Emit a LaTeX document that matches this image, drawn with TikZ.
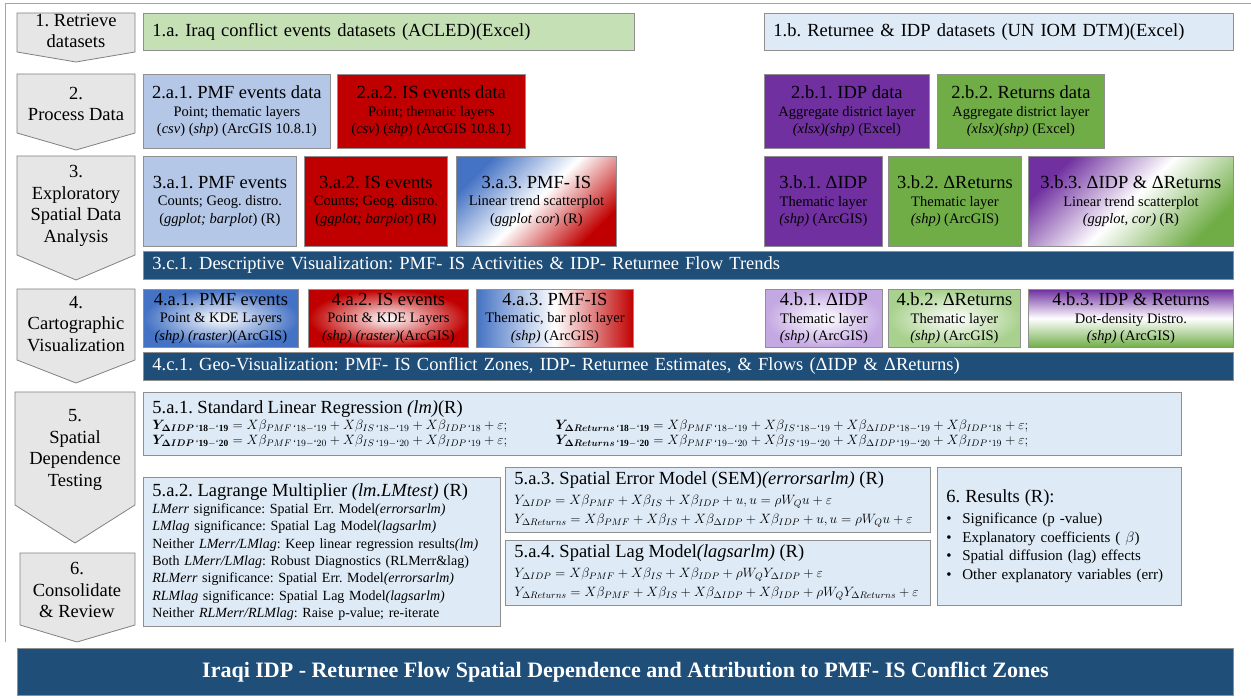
\RequirePackage{fix-cm}
\documentclass[tikz,border=0pt]{standalone}
\usepackage{fontspec}
\setmainfont{Liberation Serif}
\usepackage{amsmath,bm}
\usetikzlibrary{positioning}

\definecolor{stagefill}{HTML}{E7E6E6}
\definecolor{stageline}{HTML}{808080}
\definecolor{boxline}{HTML}{8F8F8F}
\definecolor{frameline}{HTML}{A6A6A6}
\definecolor{lgreen}{HTML}{C5E0B4}
\definecolor{pblue}{HTML}{DEEBF7}
\definecolor{pmfblue}{HTML}{B4C7E7}
\definecolor{isred}{HTML}{C00000}
\definecolor{idppurple}{HTML}{7030A0}
\definecolor{retgreen}{HTML}{70AD47}
\definecolor{barblue}{HTML}{1F4E79}
\definecolor{gblue}{HTML}{4472C4}
\definecolor{lavender}{HTML}{C4A8E2}
\definecolor{softgreen}{HTML}{A9D18E}

\newcommand{\ttlsize}{\fontsize{18.5}{20}\selectfont}
\newcommand{\subsize}{\fontsize{14.5}{17.5}\selectfont}
\newcommand{\qt}{\text{\textquoteleft}}
\frenchspacing

\begin{document}
\begin{tikzpicture}[x=1pt, y=-1pt,
	stage/.style={draw=stageline, fill=stagefill, line width=0.8pt},
	stagetext/.style={align=center, inner sep=0pt, font=\fontsize{18.5}{21.5}\selectfont},
	box/.style={draw=boxline, line width=0.8pt, anchor=north west, align=center, inner xsep=2pt, inner ysep=1pt, font=\subsize},
	leftbox/.style={box, align=left, inner xsep=9pt},
	bar/.style={draw=boxline, line width=0.8pt, fill=barblue, text=white, anchor=north west, align=left, inner xsep=9pt, inner ysep=0pt, minimum height=28pt, font=\ttlsize}]
	\useasboundingbox (0,0) rectangle (1251,700);
	\draw[frameline, line width=0.8pt] (5,642) -- (5,3) -- (1251,3);
	% stages
	\draw[stage] (17,13) -- (135,13) -- (135,52) -- (76,62) -- (17,52) -- cycle;
	\node[stagetext] (retrieve) at (76,31) {1. Retrieve\\datasets};
	\draw[stage] (17,74) -- (135,74) -- (135,133) -- (76,150) -- (17,133) -- cycle;
	\node[stagetext] (process) at (76,104) {2.\\Process Data};
	\draw[stage] (17,156) -- (135,156) -- (135,255) -- (76,280) -- (17,255) -- cycle;
	\node[stagetext] (explore) at (76,206) {3.\\Exploratory\\Spatial Data\\Analysis};
	\draw[stage] (17,289) -- (135,289) -- (135,360) -- (76,383) -- (17,360) -- cycle;
	\node[stagetext] (carto) at (76,324) {4.\\Cartographic\\Visualization};
	\draw[stage] (15,392) -- (135,392) -- (135,505) -- (75,543) -- (15,505) -- cycle;
	\node[stagetext] (spatdep) at (75,450) {5.\\Spatial\\Dependence\\Testing};
	\draw[stage] (20,553) -- (135,553) -- (135,625) -- (77,642) -- (20,625) -- cycle;
	\node[stagetext] (consol) at (77,590) {6.\\Consolidate\\\& Review};
	% 1. data sources
	\node[leftbox, fill=lgreen, text width=473pt, minimum height=37pt, font=\ttlsize] (acled) at (143,13) {1.a. Iraq conflict events datasets (ACLED)(Excel)};
	\node[leftbox, fill=pblue, text width=451pt, minimum height=37pt, font=\ttlsize] (dtm) at (764,13) {1.b. Returnee \& IDP datasets (UN IOM DTM)(Excel)};
	% 2. processing
	\node[box, fill=pmfblue, minimum width=187pt, minimum height=74pt] (pmfdata) at (143,74) {{\ttlsize 2.a.1. PMF events data}\\Point; thematic layers\\(\textit{csv}) (\textit{shp}) (ArcGIS 10.8.1)};
	\node[box, fill=isred, minimum width=188pt, minimum height=74pt] (isdata) at (337,74) {{\ttlsize 2.a.2. IS events data}\\Point; thematic layers\\(\textit{csv}) (\textit{shp}) (ArcGIS 10.8.1)};
	\node[box, fill=idppurple, minimum width=165pt, minimum height=74pt] (idpdata) at (764,74) {{\ttlsize 2.b.1. IDP data}\\Aggregate district layer\\\textit{(xlsx)(shp)} (Excel)};
	\node[box, fill=retgreen, minimum width=167pt, minimum height=74pt] (retdata) at (937,74) {{\ttlsize 2.b.2. Returns data}\\Aggregate district layer\\\textit{(xlsx)(shp)} (Excel)};
	% 3. ESDA
	\node[box, fill=pmfblue, minimum width=153pt, minimum height=90pt] (pmfesda) at (143,156) {{\ttlsize 3.a.1. PMF events}\\Counts; Geog. distro.\\(\textit{ggplot; barplot}) (R)};
	\node[box, fill=isred, minimum width=143pt, minimum height=90pt] (isesda) at (304,156) {{\ttlsize 3.a.2. IS events}\\Counts; Geog. distro.\\(\textit{ggplot; barplot}) (R)};
	\node[box, top color=gblue, bottom color=isred, middle color=white, shading angle=45, minimum width=160pt, minimum height=90pt] (conflictesda) at (456,156) {{\ttlsize 3.a.3. PMF- IS}\\Linear trend scatterplot\\(\textit{ggplot cor}) (R)};
	\node[box, fill=idppurple, minimum width=118pt, minimum height=90pt] (idpesda) at (764,156) {{\ttlsize 3.b.1. ΔIDP}\\Thematic layer\\\textit{(shp)} (ArcGIS)};
	\node[box, fill=retgreen, minimum width=133pt, minimum height=90pt] (retesda) at (888,156) {{\ttlsize 3.b.2. ΔReturns}\\Thematic layer\\\textit{(shp)} (ArcGIS)};
	\node[box, top color=idppurple, bottom color=retgreen, middle color=white, shading angle=45, minimum width=205pt, minimum height=90pt] (flowesda) at (1028,156) {{\ttlsize 3.b.3. ΔIDP \& ΔReturns}\\Linear trend scatterplot\\\textit{(ggplot, cor)} (R)};
	\node[bar, text width=1072pt] (descviz) at (143,251) {3.c.1. Descriptive Visualization: PMF- IS Activities \& IDP- Returnee Flow Trends};
	% 4. cartography
	\node[box, inner color=white, outer color=gblue, minimum width=155pt, minimum height=58pt] (pmfmap) at (143,289) {{\ttlsize 4.a.1. PMF events}\\Point \& KDE Layers\\\textit{(shp) (raster)}(ArcGIS)};
	\node[box, inner color=white, outer color=isred, minimum width=160pt, minimum height=58pt] (ismap) at (308,289) {{\ttlsize 4.a.2. IS events}\\Point \& KDE Layers\\\textit{(shp) (raster)}(ArcGIS)};
	\node[box, left color=gblue, right color=isred, middle color=white, minimum width=157pt, minimum height=58pt] (conflictmap) at (476,289) {{\ttlsize 4.a.3. PMF-IS}\\Thematic, bar plot layer\\\textit{(shp)} (ArcGIS)};
	\node[box, inner color=white, outer color=lavender, minimum width=117pt, minimum height=58pt] (idpmap) at (765,289) {{\ttlsize 4.b.1. ΔIDP}\\Thematic layer\\\textit{(shp)} (ArcGIS)};
	\node[box, inner color=white, outer color=softgreen, minimum width=132pt, minimum height=58pt] (retmap) at (888,289) {{\ttlsize 4.b.2. ΔReturns}\\Thematic layer\\\textit{(shp)} (ArcGIS)};
	\node[box, top color=idppurple, bottom color=retgreen, middle color=white, minimum width=205pt, minimum height=58pt] (flowmap) at (1028,289) {{\ttlsize 4.b.3. IDP \& Returns}\\Dot-density Distro.\\\textit{(shp)} (ArcGIS)};
	\node[bar, text width=1072pt] (geoviz) at (143,352) {4.c.1. Geo-Visualization: PMF- IS Conflict Zones, IDP- Returnee Estimates, \& Flows (ΔIDP \& ΔReturns)};
	% 5. spatial dependence
	\node[leftbox, fill=pblue, text width=1020pt, minimum height=63pt, font=\fontsize{13.5}{14.5}\selectfont] (ols) at (143,392) {{\ttlsize 5.a.1. Standard Linear Regression \textit{(lm)}(R)}\\[2pt]
		\makebox[403pt][l]{$\bm{Y}_{\bm{\Delta IDP}\,\qt\mathbf{18-}\qt\mathbf{19}} = X\beta_{PMF\,\qt18-\qt19} + X\beta_{IS\,\qt18-\qt19} + X\beta_{IDP\,\qt18} + \varepsilon;$}$\bm{Y}_{\bm{\Delta Returns}\,\qt\mathbf{18-}\qt\mathbf{19}} = X\beta_{PMF\,\qt18-\qt19} + X\beta_{IS\,\qt18-\qt19} + X\beta_{\Delta IDP\,\qt18-\qt19} + X\beta_{IDP\,\qt18} + \varepsilon;$\\
		\makebox[403pt][l]{$\bm{Y}_{\bm{\Delta IDP}\,\qt\mathbf{19-}\qt\mathbf{20}} = X\beta_{PMF\,\qt19-\qt20} + X\beta_{IS\,\qt19-\qt20} + X\beta_{IDP\,\qt19} + \varepsilon;$}$\bm{Y}_{\bm{\Delta Returns}\,\qt\mathbf{19-}\qt\mathbf{20}} = X\beta_{PMF\,\qt19-\qt20} + X\beta_{IS\,\qt19-\qt20} + X\beta_{\Delta IDP\,\qt19-\qt20} + X\beta_{IDP\,\qt19} + \varepsilon;$};
	\node[leftbox, fill=pblue, text width=339pt, minimum height=149pt, font=\fontsize{14}{17.3}\selectfont] (lmtest) at (143,477) {{\ttlsize 5.a.2. Lagrange Multiplier \textit{(lm.LMtest)} (R)}\\
		\textit{LMerr} significance: Spatial Err. Model\textit{(errorsarlm)}\\
		\textit{LMlag} significance: Spatial Lag Model\textit{(lagsarlm)}\\
		Neither \textit{LMerr/LMlag}: Keep linear regression results\textit{(lm)}\\
		Both \textit{LMerr/LMlag}: Robust Diagnostics (RLMerr\&lag)\\
		\textit{RLMerr} significance: Spatial Err. Model\textit{(errorsarlm)}\\
		\textit{RLMlag} significance: Spatial Lag Model\textit{(lagsarlm)}\\
		Neither \textit{RLMerr/RLMlag}: Raise p-value; re-iterate};
	\node[leftbox, fill=pblue, text width=407pt, minimum height=65pt, font=\fontsize{13.5}{19.5}\selectfont] (sem) at (505,467) {{\ttlsize 5.a.3. Spatial Error Model (SEM)\textit{(errorsarlm)} (R)}\\
		$Y_{\Delta IDP} = X\beta_{PMF} + X\beta_{IS} + X\beta_{IDP} + u, u = \rho W_Q u + \varepsilon$\\
		$Y_{\Delta Returns} = X\beta_{PMF} + X\beta_{IS} + X\beta_{\Delta IDP} + X\beta_{IDP} + u, u = \rho W_Q u + \varepsilon$};
	\node[leftbox, fill=pblue, text width=407pt, minimum height=65pt, font=\fontsize{13.5}{19.5}\selectfont] (slm) at (505,540) {{\ttlsize 5.a.4. Spatial Lag Model\textit{(lagsarlm)} (R)}\\
		$Y_{\Delta IDP} = X\beta_{PMF} + X\beta_{IS} + X\beta_{IDP} + \rho W_Q Y_{\Delta IDP} + \varepsilon$\\
		$Y_{\Delta Returns} = X\beta_{PMF} + X\beta_{IS} + X\beta_{\Delta IDP} + X\beta_{IDP} + \rho W_Q Y_{\Delta Returns} + \varepsilon$};
	% 6. results
	\node[leftbox, fill=pblue, text width=226pt, minimum height=138pt, font=\fontsize{15}{18.7}\selectfont] (results) at (937,467) {{\ttlsize 6. Results (R):}\\[2pt]
		\makebox[16pt][l]{•}Significance (p -value)\\
		\makebox[16pt][l]{•}Explanatory coefficients ( $\beta$)\\
		\makebox[16pt][l]{•}Spatial diffusion (lag) effects\\
		\makebox[16pt][l]{•}Other explanatory variables (err)};
	\node[bar, align=center, minimum width=1216pt, minimum height=47pt, font=\fontsize{22}{24}\selectfont\bfseries] (banner) at (17,648) {Iraqi IDP - Returnee Flow Spatial Dependence and Attribution to PMF- IS Conflict Zones};
\end{tikzpicture}
\end{document}
